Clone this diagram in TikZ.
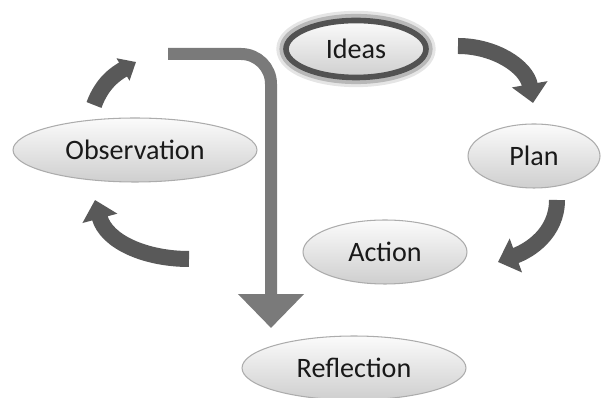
\documentclass[tikz,border=0pt]{standalone}
\usepackage{fontspec}
\setmainfont{Carlito}
\usetikzlibrary{shapes.geometric,arrows.meta}

\begin{document}
\begin{tikzpicture}[x=0.02cm,y=0.02cm,
    stage/.style={ellipse,draw=gray!65,line width=0.6pt,top color=gray!3,bottom color=gray!38,
        inner sep=0pt,font=\fontsize{16}{19}\selectfont,text=black!90},
    idea/.style={stage,draw=black!68,line width=3.2pt,
        preaction={draw=black!10,line width=11pt},preaction={draw=black!28,line width=7.5pt}},
    turn/.style={draw=black!65,line width=0.32cm,-{Triangle[width=0.7cm,length=0.38cm]}},
    drop/.style={draw=black!52,line width=0.24cm,rounded corners=0.6cm,-{Triangle[width=1.28cm,length=0.68cm]}}]
    \useasboundingbox (0,0) rectangle (601,398);

    % Draw the stages
    \node (ideas) [idea,minimum width=2.8cm,minimum height=1.14cm] at (356,349) {Ideas};
    \node (plan) [stage,minimum width=2.64cm,minimum height=1.28cm] at (534,242) {Plan};
    \node (action) [stage,minimum width=3.28cm,minimum height=1.28cm] at (385,146) {Action};
    \node (obs) [stage,minimum width=4.88cm,minimum height=1.28cm] at (135,248) {Observation};
    \node (refl) [stage,minimum width=4.48cm,minimum height=1.28cm] at (354,30) {Reflection};

    % Curved arrows of the cycle
    \coordinate (i_1) at (458,352); \coordinate (i_2) at (533,295);
    \coordinate (p_1) at (557,198); \coordinate (p_2) at (498,136);
    \coordinate (a_1) at (189,139); \coordinate (a_2) at (95,198);
    \coordinate (o_1) at (94,293);  \coordinate (o_2) at (136,336);
    \draw [turn] (i_1) to[out=0,in=100] (i_2);
    \draw [turn] (p_1) to[out=-90,in=20] (p_2);
    \draw [turn] (a_1) to[out=180,in=-75] (a_2);
    \draw [turn,-{Triangle[width=0.5cm,length=0.3cm]}] (o_1) to[out=70,in=210] (o_2);

    % Draw the way out to reflection
    \coordinate (r_1) at (168,344);
    \coordinate (r_2) at (271,70);
    \draw [drop] (r_1) -| (r_2);
\end{tikzpicture}
\end{document}
